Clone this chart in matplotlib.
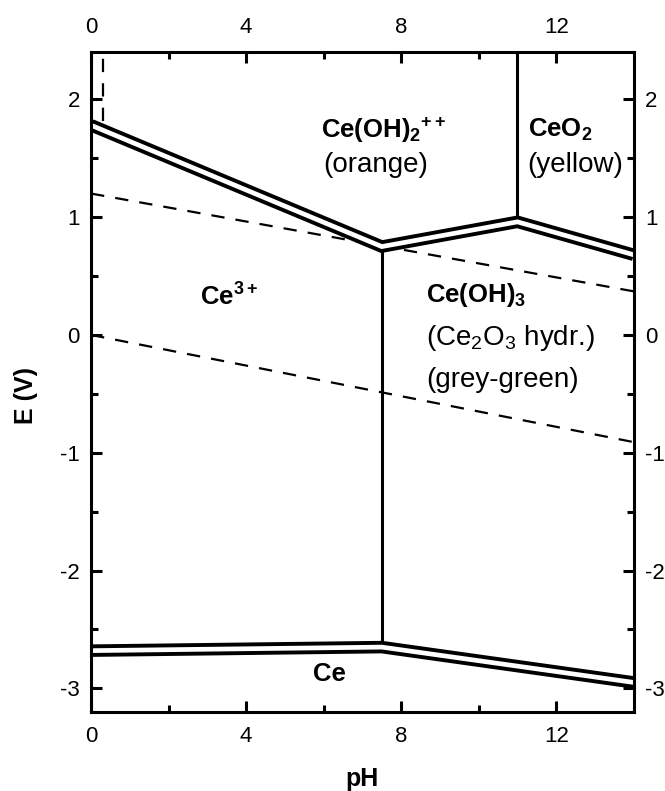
import matplotlib.pyplot as plt
import numpy as np

plt.rcParams['font.family'] = ['Liberation Sans', 'DejaVu Sans']
plt.rcParams['mathtext.fontset'] = 'custom'
plt.rcParams['mathtext.rm'] = 'Liberation Sans'
plt.rcParams['mathtext.it'] = 'Liberation Sans:italic'
plt.rcParams['mathtext.bf'] = 'Liberation Sans:bold'
plt.rcParams['axes.unicode_minus'] = False

# double boundary lines
ph_top = [0, 7.5, 11, 14]
e_top = [1.78, 0.75, 0.96, 0.68]
ph_bot = [0, 7.5, 14]
e_bot = [-2.68, -2.65, -2.95]

# single vertical boundaries
ph_v1 = [7.5, 7.5]
e_v1 = [-2.65, 0.75]
ph_v2 = [11, 11]
e_v2 = [0.96, 2.4]

# water stability lines (dashed)
ph_w = [0, 14]
e_o2 = [1.2, 0.37]
e_h2 = [0.0, -0.91]
ph_d = [0.3, 0.3]
e_d = [1.82, 2.4]

fig = plt.figure(figsize=(6.65, 7.91), dpi=100)
ax = fig.add_axes([0.137, 0.1, 0.816, 0.834])

ax.plot(ph_v1, e_v1, color='black', lw=2.2)
ax.plot(ph_v2, e_v2, color='black', lw=2.2)

dash = dict(color='black', lw=1.6, dashes=(6, 5))
ax.plot(ph_w, e_o2, **dash)
ax.plot(ph_w, e_h2, **dash)
ax.plot(ph_d, e_d, **dash)

for x, y in [(ph_top, e_top), (ph_bot, e_bot)]:
    ax.plot(x, y, color='black', lw=9, solid_joinstyle='miter', solid_capstyle='butt')
    ax.plot(x, y, color='white', lw=3.4, solid_joinstyle='miter', solid_capstyle='butt')

fb = 18.5  # bold labels
fr = 20    # colour notes
ax.text(7.55, 1.74, r'$\mathbf{Ce(OH)_2}^{\mathbf{++}}$', fontsize=fb, ha='center', va='center')
ax.text(7.35, 1.44, '(orange)', fontsize=fr, ha='center', va='center')
ax.text(12.1, 1.74, r'$\mathbf{CeO_2}$', fontsize=fb, ha='center', va='center')
ax.text(12.5, 1.44, '(yellow)', fontsize=fr, ha='center', va='center')
ax.text(3.55, 0.32, r'$\mathbf{Ce^{3+}}$', fontsize=fb, ha='center', va='center')
ax.text(8.65, 0.34, r'$\mathbf{Ce(OH)_3}$', fontsize=fb, ha='left', va='center')
ax.text(8.65, -0.03, r'(Ce$_2$O$_3$ hydr.)', fontsize=fr, ha='left', va='center')
ax.text(8.65, -0.38, '(grey-green)', fontsize=fr, ha='left', va='center')
ax.text(6.15, -2.88, 'Ce', fontsize=fb, fontweight='bold', ha='center', va='center')

ax.set_xlim(0, 14)
ax.set_ylim(-3.2, 2.4)
ax.set_xticks([0, 4, 8, 12])
ax.set_xticks([2, 6, 10], minor=True)
ax.set_yticks([-3, -2, -1, 0, 1, 2])
ax.set_yticks(np.arange(-3, 2.5, 0.5), minor=True)
ax.tick_params(which='both', direction='in', top=True, right=True,
               labeltop=True, labelright=True, width=2.2, labelsize=16)
ax.tick_params(which='major', length=8, pad=10)
ax.tick_params(axis='y', which='major', pad=8)
ax.tick_params(which='minor', length=5)
for s in ax.spines.values():
    s.set_linewidth(2.2)

ax.set_xlabel('pH', fontsize=18, fontweight='bold')
ax.set_ylabel('E (V)', fontsize=18, fontweight='bold')
ax.xaxis.set_label_coords(0.5, -0.083)
ax.yaxis.set_label_coords(-0.097, 0.48)

fig.savefig('out.png', dpi=100)
